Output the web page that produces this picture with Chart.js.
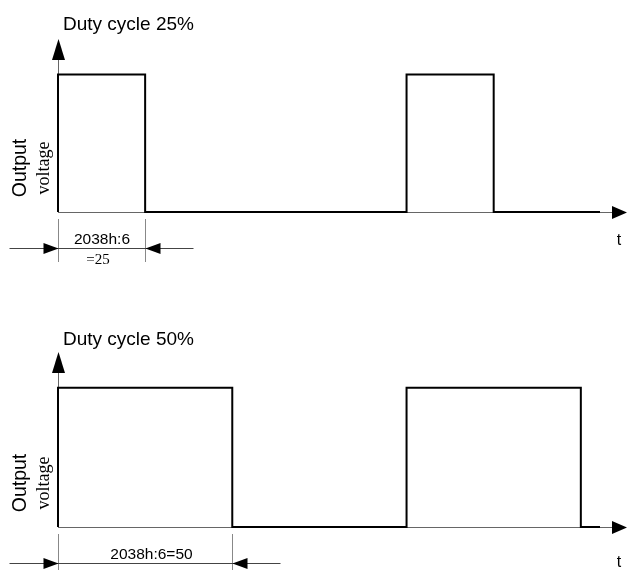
<!DOCTYPE html>
<html>
<head>
<meta charset="utf-8">
<script src="https://cdn.jsdelivr.net/npm/chart.js@4/dist/chart.umd.min.js"></script>
<style>
  html, body { margin: 0; padding: 0; background: #fff; }
  .wave { position: relative; width: 627px; }
  #top-wrap { height: 315px; }
  #bottom-wrap { height: 255px; }
</style>
</head>
<body>
<div class="wave" id="top-wrap"><canvas id="top-chart"></canvas></div>
<div class="wave" id="bottom-wrap"><canvas id="bottom-chart"></canvas></div>
<script>
// waveform data (time in units, level 0/1)
const timeTop = [0, 0, 1, 1, 4, 4, 5, 5, 6.22];
const levelTop = [0, 1, 1, 0, 0, 1, 1, 0, 0];
const timeBottom = [0, 0, 2, 2, 4, 4, 6, 6, 6.22];
const levelBottom = [0, 1, 1, 0, 0, 1, 1, 0, 0];

const titles = ["Duty cycle 25%", "Duty cycle 50%"];
const dimLabelsTop = ["2038h:6", "=25"];
const dimLabelsBottom = ["2038h:6=50"];
const yLabels = ["Output", "voltage"];
const xLabel = "t";

const SANS = '"Liberation Sans", Arial, sans-serif';
const SERIF = '"Liberation Serif", "Times New Roman", serif';

function toPoints(times, levels) {
  return times.map((t, i) => ({ x: t, y: levels[i] }));
}

function arrowHead(ctx, tipX, tipY, dir, len, half) {
  ctx.beginPath();
  if (dir === "up") {
    ctx.moveTo(tipX, tipY);
    ctx.lineTo(tipX - half, tipY + len);
    ctx.lineTo(tipX + half, tipY + len);
  } else if (dir === "right") {
    ctx.moveTo(tipX, tipY);
    ctx.lineTo(tipX - len, tipY - half);
    ctx.lineTo(tipX - len, tipY + half);
  } else {
    ctx.moveTo(tipX, tipY);
    ctx.lineTo(tipX + len, tipY - half);
    ctx.lineTo(tipX + len, tipY + half);
  }
  ctx.closePath();
  ctx.fill();
}

// Axes, arrows and annotations
const waveDecor = {
  id: "waveDecor",
  beforeDatasetsDraw(chart, args, opts) {
    const ctx = chart.ctx;
    const x = chart.scales.x;
    const y = chart.scales.y;
    const x0 = x.getPixelForValue(0);
    const y0 = y.getPixelForValue(0);
    const top = chart.chartArea.top;

    ctx.save();
    ctx.strokeStyle = "#666";
    ctx.fillStyle = "#000";
    ctx.lineWidth = 1;
    // y axis
    ctx.beginPath();
    ctx.moveTo(x0 + 0.5, y0);
    ctx.lineTo(x0 + 0.5, top + 18);
    ctx.stroke();
    arrowHead(ctx, x0 + 0.5, top - 1, "up", 21, 6.5);
    // x axis
    ctx.beginPath();
    ctx.moveTo(x0, y0 + 0.5);
    ctx.lineTo(chart.width - 14, y0 + 0.5);
    ctx.stroke();
    arrowHead(ctx, chart.width, y0 + 0.5, "right", 15, 6.5);
    ctx.restore();
  },
  afterDraw(chart, args, opts) {
    const ctx = chart.ctx;
    const x = chart.scales.x;
    const y = chart.scales.y;
    const y0 = y.getPixelForValue(0);
    const xa = Math.round(x.getPixelForValue(opts.dimStart)) + 0.5;
    const xb = Math.round(x.getPixelForValue(opts.dimEnd)) + 0.5;
    const dimY = Math.round(y0 + 36) + 0.5;

    ctx.save();
    // title
    ctx.fillStyle = "#000";
    ctx.font = "19px " + SANS;
    ctx.textAlign = "left";
    ctx.textBaseline = "alphabetic";
    ctx.fillText(opts.title, 63, 30);

    // rotated y label
    ctx.save();
    ctx.translate(26, y0 - 44);
    ctx.rotate(-Math.PI / 2);
    ctx.textAlign = "center";
    ctx.font = "19.5px " + SANS;
    ctx.fillText(yLabels[0], 0, 0);
    ctx.restore();
    ctx.save();
    ctx.translate(49, y0 - 44);
    ctx.rotate(-Math.PI / 2);
    ctx.textAlign = "center";
    ctx.font = "18px " + SERIF;
    ctx.fillText(yLabels[1], 0, 0);
    ctx.restore();

    // t label
    ctx.font = "16px " + SANS;
    ctx.textAlign = "center";
    ctx.fillText(xLabel, 619, opts.tY);

    // extension lines
    ctx.strokeStyle = "#888";
    ctx.lineWidth = 1;
    ctx.beginPath();
    ctx.moveTo(xa, y0 + 7);
    ctx.lineTo(xa, y0 + 50);
    ctx.moveTo(xb, y0 + 7);
    ctx.lineTo(xb, y0 + 50);
    ctx.stroke();

    // dimension line
    ctx.strokeStyle = "#444";
    ctx.beginPath();
    ctx.moveTo(xa - 49, dimY);
    ctx.lineTo(xb + 48, dimY);
    ctx.stroke();
    ctx.fillStyle = "#000";
    arrowHead(ctx, xa, dimY, "right", 15, 5.5);
    arrowHead(ctx, xb, dimY, "left", 15, 5.5);

    // dimension text
    const mid = (xa + xb) / 2 + opts.labelShift;
    ctx.textAlign = "center";
    ctx.font = "15.5px " + SANS;
    ctx.fillText(opts.labels[0], mid, dimY - 5);
    if (opts.labels[1]) {
      ctx.font = "15px " + SERIF;
      ctx.fillText(opts.labels[1], mid - 4, dimY + 15);
    }
    ctx.restore();
  }
};

function makeWave(canvasId, times, levels, decor, padding) {
  const ctx = document.getElementById(canvasId).getContext("2d");
  return new Chart(ctx, {
    type: "line",
    data: {
      datasets: [
        {
          data: toPoints(times, levels),
          borderColor: "#000",
          borderWidth: 2,
          pointRadius: 0,
          fill: false,
          tension: 0,
          clip: false,
        },
      ],
    },
    options: {
      responsive: true,
      maintainAspectRatio: false,
      animation: false,
      layout: { padding: padding },
      scales: {
        x: { type: "linear", min: 0, max: 6.22, display: false },
        y: { type: "linear", min: 0, max: 1.25, display: false },
      },
      plugins: {
        legend: { display: false },
        tooltip: { enabled: false },
        waveDecor: decor,
      },
    },
    plugins: [waveDecor],
  });
}

makeWave("top-chart", timeTop, levelTop,
  { title: titles[0], dimStart: timeTop[1], dimEnd: timeTop[2], labels: dimLabelsTop, labelShift: 0, tY: 245 },
  { left: 58, right: 27, top: 40, bottom: 103 });

makeWave("bottom-chart", timeBottom, levelBottom,
  { title: titles[1], dimStart: timeBottom[1], dimEnd: timeBottom[2], labels: dimLabelsBottom, labelShift: 6, tY: 252 },
  { left: 58, right: 27, top: 38, bottom: 43 });
</script>
</body>
</html>
